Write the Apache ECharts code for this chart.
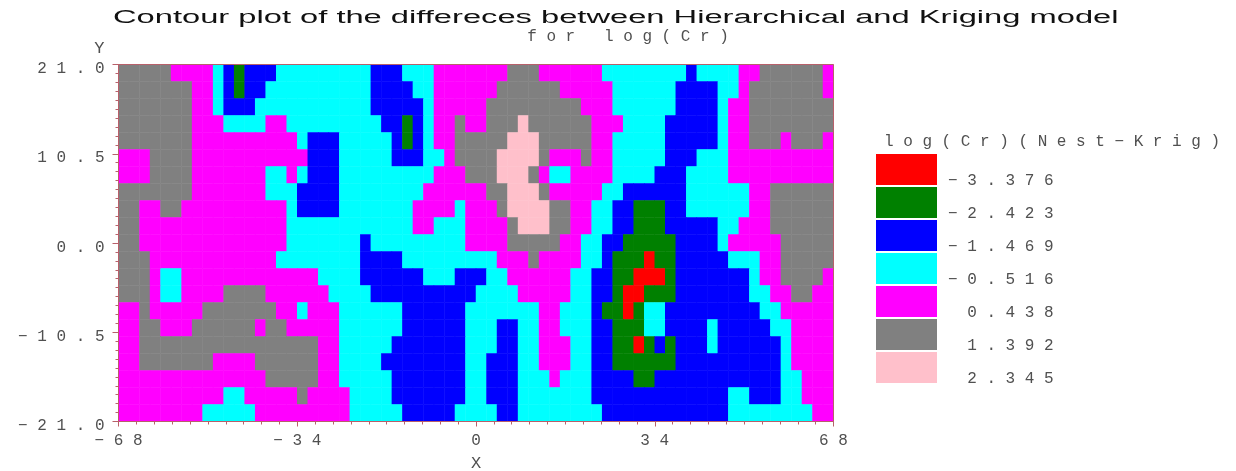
<!DOCTYPE html>
<html><head><meta charset="utf-8">
<style>html,body{margin:0;padding:0;background:#fff}#c{width:1236px;height:471px}</style>
<script src="https://cdn.jsdelivr.net/npm/echarts@6/dist/echarts.min.js"></script>
</head><body><div id="c"></div>
<script>
const titleLine = 'Contour plot of the differeces between Hierarchical and Kriging model';
const subtitleLine = 'for log(Cr)';
const legendTitle = 'log(Cr)(Nest\u2212Krig)';
const xName = 'X', yName = 'Y';
const xTickLabels = ['\u221268', '\u221234', '0', '34', '68'];
const yTickLabels = ['\u221221.0', '\u221210.5', '0.0', '10.5', '21.0'];
const levelCodes = ['R', 'G', 'B', 'C', 'M', 'A', 'P'];
const levelValues = [-3.376, -2.423, -1.469, -0.516, 0.438, 1.392, 2.345];
const levelLabels = ['\u22123.376', '\u22122.423', '\u22121.469', '\u22120.516', '0.438', '1.392', '2.345'];
const levelColors = ['#ff0000', '#008000', '#0000ff', '#00ffff', '#ff00ff', '#808080', '#ffc0cb'];
// Column centres (X) and row centres (Y)
const xCells = [-67,-65,-63,-61,-59,-57,-55,-53,-51,-49,-47,-45,-43,-41,-39,-37,-35,-33,-31,-29,-27,-25,-23,-21,-19,-17,-15,-13,-11,-9,-7,-5,-3,-1,1,3,5,7,9,11,13,15,17,19,21,23,25,27,29,31,33,35,37,39,41,43,45,47,49,51,53,55,57,59,61,63,65,67];
const yCells = [-20,-18,-16,-14,-12,-10,-8,-6,-4,-2,0,2,4,6,8,10,12,14,16,18,20];
// Class of every cell, top row first, as runs of <class><count>
const cellRows = [
 'A5 M4 C1 B1 G1 B3 C9 B3 C3 M7 A3 M6 C8 B1 C4 M2 A6 M1',
 'A7 M2 C1 B1 G1 B2 C10 B4 C2 M6 A6 M5 C6 B4 C2 M1 A7 M1',
 'A7 M2 C1 B3 C11 B5 C1 M5 A9 M3 C6 B4 C1 M2 A8',
 'A7 M3 C4 M2 C9 B2 G1 B1 C1 M2 A1 M2 A3 P1 A6 M3 C4 B5 C1 M2 A8',
 'A7 M10 C1 B3 C5 B1 G1 B1 C1 M2 A5 P3 A5 M2 C5 B5 C1 M2 A3 M1 A3 M1',
 'M3 A4 M11 B3 C5 B3 C2 M1 A4 P4 A1 M3 A1 M2 C5 B3 C3 M10',
 'M3 A4 M7 C2 M1 C1 B3 C9 M3 A3 P3 A1 M1 C2 M4 C4 B3 C4 M10',
 'A7 M7 C3 B4 C8 M6 A2 P3 A1 M5 C2 B6 C6 M2 A6',
 'A2 M2 A2 M10 C1 B4 C7 M4 C1 M3 A1 P4 A2 M2 C2 B2 G3 B2 C6 M2 A6',
 'A2 M14 C12 M2 C3 M4 A1 P3 A2 M2 C2 B2 G3 B5 C2 M3 A6',
 'A2 M14 C7 B1 C9 M4 A5 M2 C2 B2 G5 B4 C1 M5 A5',
 'A3 M12 C8 B4 C9 M3 A1 M4 C2 B1 G3 R1 G2 B5 C3 M2 A5',
 'A3 M1 C2 M13 C4 B6 C3 B3 C2 M6 C2 B2 G2 R3 G1 B7 C1 M2 A4 M1',
 'A3 M1 C2 M4 A4 M6 C4 B10 C4 M5 C2 B2 G1 R2 G3 B7 C2 M2 A2 M2',
 'M2 A1 M5 A7 M2 C1 M3 C6 B6 C7 M2 C3 B1 G2 R1 G1 C2 B9 C2 M5',
 'M2 A2 M3 A6 M1 A2 M5 C6 B6 C3 B2 C2 M2 C3 B2 G3 C2 B4 C1 B5 C2 M4',
 'M2 A17 M2 C5 B7 C3 B2 C2 M3 C2 B2 G2 R1 G1 B1 G1 B3 C1 B6 C1 M4',
 'M2 A7 M4 A6 M2 C4 B8 C2 B3 C2 M3 C2 B2 G6 B10 C1 M4',
 'M14 A5 M2 C5 B7 C2 B3 C3 M1 C3 B4 G2 B12 C2 M3',
 'M10 C2 M5 A1 M4 C4 B7 C2 B3 C7 B13 C2 B3 C2 M3',
 'M8 C5 M9 C5 B5 C4 B2 C8 B12 C8 M2'
];

const cells = [];
cellRows.forEach((row, r) => {
  let c = 0;
  row.split(' ').forEach(run => {
    const level = levelValues[levelCodes.indexOf(run[0])];
    for (let n = +run.slice(1); n > 0; n--) {
      cells.push([String(xCells[c]), String(yCells[yCells.length - 1 - r]), level]);
      c++;
    }
  });
  if (c !== xCells.length) console.error('row ' + r + ' has ' + c + ' cells');
});

const spaced = s => s.split('').join(' ');
const monoFont = '16px "Liberation Mono"';
const inkGray = '#505050';
const axisRed = '#b8606a';
const pad = Math.max(...levelLabels.map(l => l.length));

const chart = echarts.init(document.getElementById('c'), null, {renderer: 'canvas'});
chart.setOption({
  animation: false,
  backgroundColor: '#fff',
  grid: {left: 118.5, top: 64.5, width: 715, height: 357, outerBoundsMode: 'none', show: true, borderColor: axisRed, borderWidth: 1, backgroundColor: 'transparent', z: 5},
  xAxis: [
    {type: 'category', data: xCells.map(String), show: false},
    {type: 'value', position: 'bottom', min: -68, max: 68, interval: 34, z: 6,
     name: xName, nameLocation: 'middle', nameGap: 33,
     nameTextStyle: {color: inkGray, fontFamily: 'Liberation Mono', fontSize: 17},
     axisLine: {show: true, onZero: false, lineStyle: {color: axisRed}},
     axisTick: {show: true, length: 5, lineStyle: {color: axisRed}},
     minorTick: {show: true, splitNumber: 10, length: 3, lineStyle: {color: axisRed}},
     splitLine: {show: false}, minorSplitLine: {show: false},
     axisLabel: {show: true, margin: 11, color: inkGray, fontFamily: 'Liberation Mono', fontSize: 16, hideOverlap: false,
       showMinLabel: true, showMaxLabel: true,
       formatter: (v, i) => spaced(xTickLabels[i])}}
  ],
  yAxis: [
    {type: 'category', data: yCells.map(String), show: false},
    {type: 'value', position: 'left', min: -21, max: 21, interval: 10.5, z: 6,
     name: yName, nameLocation: 'end', nameGap: 8,
     nameTextStyle: {color: inkGray, fontFamily: 'Liberation Mono', fontSize: 17, align: 'right', padding: [0, 14, 0, 0]},
     axisLine: {show: true, onZero: false, lineStyle: {color: axisRed}},
     axisTick: {show: true, length: 6, lineStyle: {color: axisRed}},
     minorTick: {show: true, splitNumber: 10, length: 3, lineStyle: {color: axisRed}},
     splitLine: {show: false}, minorSplitLine: {show: false},
     axisLabel: {show: true, margin: 14, color: inkGray, fontFamily: 'Liberation Mono', fontSize: 16,
       showMinLabel: true, showMaxLabel: true, verticalAlign: 'top', lineHeight: 9,
       formatter: (v, i) => spaced(yTickLabels[i])}}
  ],
  visualMap: {
    type: 'piecewise', show: true, seriesIndex: 0, dimension: 2, orient: 'vertical', inverse: true, align: 'left',
    left: 876, top: 147.5, itemWidth: 61, itemHeight: 31, itemGap: -11, textGap: 11, itemSymbol: 'rect',
    selectedMode: false, hoverLink: false, padding: 0,
    textStyle: {color: inkGray, fontFamily: 'Liberation Mono', fontSize: 16, lineHeight: 22},
    pieces: levelValues.map((v, i) => ({
      value: v, color: levelColors[i],
      label: '\n' + ' '.repeat((pad - levelLabels[i].length) * 2) + spaced(levelLabels[i])
    }))
  },
  graphic: [
    {type: 'text', x: 113, y: 9, scaleX: 1.815, silent: true,
     style: {text: titleLine, fill: '#111', font: '18px "Liberation Sans"'}},
    {type: 'text', x: 628, y: 29, silent: true,
     style: {text: spaced(subtitleLine), fill: inkGray, font: monoFont, align: 'center'}},
    {type: 'text', x: 884, y: 134, silent: true,
     style: {text: spaced(legendTitle), fill: inkGray, font: monoFont}}
  ],
  series: [{type: 'heatmap', xAxisIndex: 0, yAxisIndex: 0, data: cells, progressive: 0, itemStyle: {borderWidth: 0}}]
});
</script></body></html>
